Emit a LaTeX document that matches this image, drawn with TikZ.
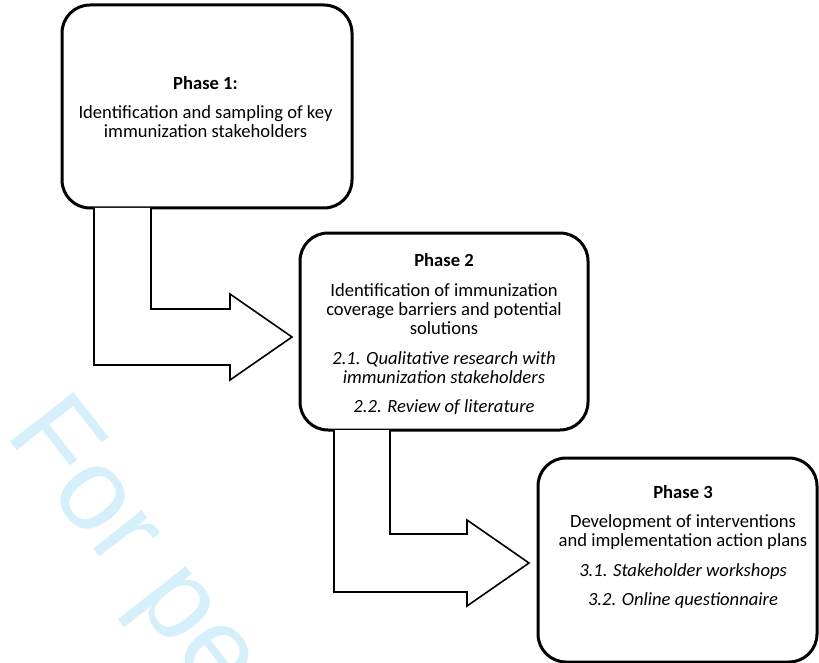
\documentclass[tikz,border=0pt]{standalone}
\usepackage{fontspec}
\setmainfont{Carlito}
\newfontfamily\wmfont{Liberation Sans}
\usetikzlibrary{calc}
\definecolor{wmblue}{RGB}{214,240,251}
\tikzset{
  phasebox/.style={draw=black, line width=3pt, fill=white, rounded corners=28pt, inner sep=0pt, outer sep=0pt},
  phasetext/.style={anchor=north, inner sep=0pt, align=center, font=\fontsize{18.6pt}{19.3pt}\selectfont},
  bentarrow/.style={draw=black, line width=1.6pt, line join=miter, fill=white},
}
\newcommand{\pgap}{\\[10pt]}
\begin{document}
\begin{tikzpicture}[x=1pt,y=1pt]
\useasboundingbox (0,0) rectangle (819,-663);
\begin{scope}
\clip (0,0) rectangle (819,-663);
% watermark
\node[anchor=base west, rotate=-52, inner sep=0pt, text=wmblue, font=\wmfont\fontsize{117pt}{117pt}\selectfont] (wm) at (4.6,-434.8) {For pe};
% boxes
\node[phasebox, minimum width=290pt, minimum height=203pt] (p1) at (207,-106.5) {};
\node[phasebox, minimum width=288pt, minimum height=197pt] (p2) at (444,-331.5) {};
\node[phasebox, minimum width=279pt, minimum height=204pt] (p3) at (677.5,-560) {};
% bent arrows
\draw[bentarrow] ($(p1.south west)+(32,0)$) -- ++(0,-157) -- ++(136,0) -- ++(0,-15)
  -- ++(62,43) -- ++(-62,43) -- ++(0,-15) -- ++(-79,0) -- ++(0,101);
\draw[bentarrow] ($(p2.south west)+(34,0)$) -- ++(0,-162) -- ++(133,0) -- ++(0,-14)
  -- ++(62,43) -- ++(-62,43) -- ++(0,-14) -- ++(-77,0) -- ++(0,104);
% texts
\node[phasetext] (t1) at (205.5,-76) {\textbf{Phase 1:}\pgap Identification and sampling of key\\immunization stakeholders};
\node[phasetext] (t2) at (444,-253.7) {\textbf{Phase 2}\pgap Identification of immunization\\coverage barriers and potential\\solutions\pgap \textit{2.1. Qualitative research with}\\\textit{immunization stakeholders}\pgap \textit{2.2. Review of literature}};
\node[phasetext] (t3) at (683,-485) {\textbf{Phase 3}\pgap Development of interventions\\and implementation action plans\pgap \textit{3.1. Stakeholder workshops}\pgap \textit{3.2. Online questionnaire}};
\end{scope}
\end{tikzpicture}
\end{document}
